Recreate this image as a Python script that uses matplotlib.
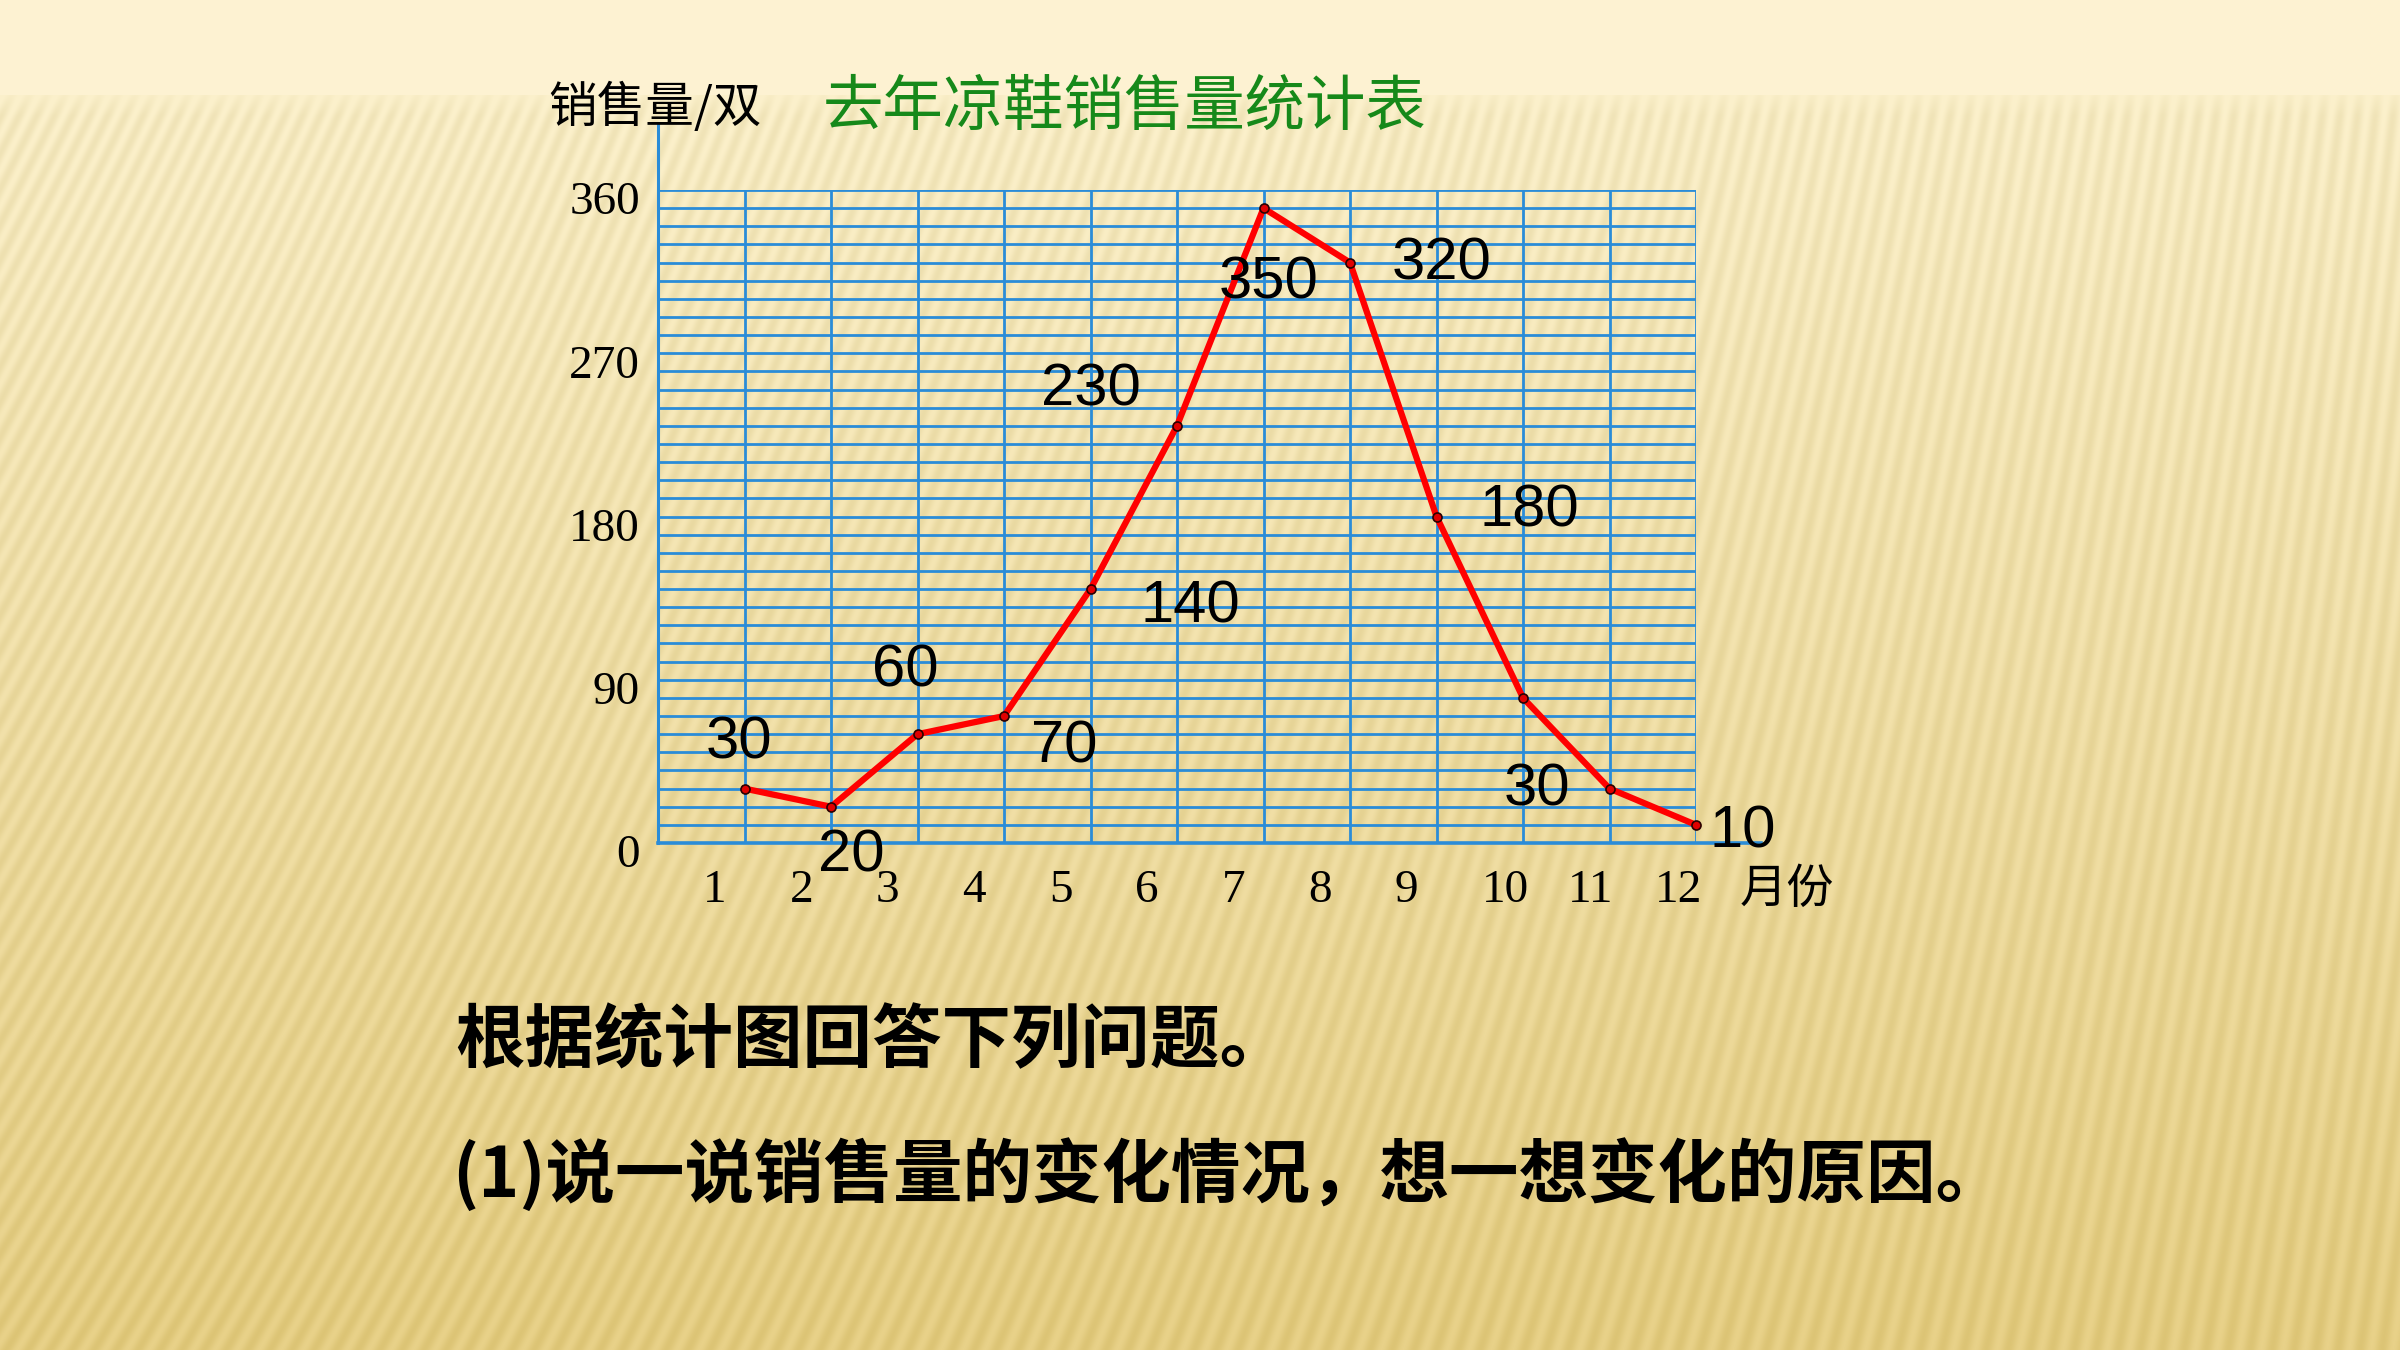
import matplotlib
import numpy as np

matplotlib.use("Agg")
import matplotlib.pyplot as plt
from matplotlib.transforms import offset_copy

plt.rcParams["font.family"] = ["Noto Sans CJK SC", "DejaVu Sans"]

months = [1, 2, 3, 4, 5, 6, 7, 8, 9, 10, 11, 12]
sales = [30, 20, 60, 70, 140, 230, 350, 320, 180, 80, 30, 10]
y_ticks = [0, 90, 180, 270, 360]
month_labels = ["1", "2", "3", "4", "5", "6", "7", "8", "9", "10", "11", "12"]
chart_title = "去年凉鞋销售量统计表"
y_title = "销售量/双"
x_title = "月份"
question = "根据统计图回答下列问题。"
question_1 = "(1)说一说销售量的变化情况，想一想变化的原因。"

# where each value label sits relative to its point (month, value), in data units
label_offsets = {
    1: (-0.06, 25),
    2: (0.24, -27),
    3: (-0.14, 35),
    4: (0.70, -17),
    5: (1.16, -10),
    6: (-0.99, 20),
    7: (0.06, -41),
    8: (1.06, -1),
    9: (1.07, 3),
    11: (-0.84, -1),
    12: (0.54, -4),
}

W, H = 2400, 1350
GRID = "#2A8CD8"

fig = plt.figure(figsize=(24, 13.5), dpi=100)

# slide background: warm beige gradient with slanted stripes
bg = fig.add_axes([0, 0, 1, 1], zorder=-5)
yy, xx = np.mgrid[0:H, 0:W].astype(float)
up = H - yy
slope = 0.62 - 0.47 * (xx / W)
phase = (xx - up * slope) / 22.0
stripe = 0.5 + 0.5 * np.sin(2 * np.pi * phase)
t = np.clip((yy - 100) / (H - 100), 0, 1)[..., None]
light = np.array([252, 241, 204]) / 255
dark = np.array([232, 209, 136]) / 255
img = light * (1 - t) + dark * t
band = np.clip((yy - 85) / 30, 0, 1)[..., None]
img = img - band * stripe[..., None] * np.array([0.045, 0.05, 0.075])
top = np.array([253, 242, 210]) / 255
img = np.where(yy[..., None] < 95, top, img)
bg.imshow(np.clip(img, 0, 1), aspect="auto", extent=[0, 1, 0, 1])
bg.axis("off")

left, right, top_px, bottom = 658, 1696, 190, 843
ax = fig.add_axes(
    [left / W, 1 - bottom / H, (right - left) / W, (bottom - top_px) / H]
)
ax.set_xlim(0, 12)
ax.set_ylim(0, 360)
ax.patch.set_alpha(0)
for side in ax.spines.values():
    side.set_visible(False)
ax.set_xticks([])
ax.set_yticks([])

for yv in range(10, 361, 10):
    ax.plot([0, 12], [yv, yv], color=GRID, lw=2.0, zorder=1)
for xv in months:
    ax.plot([xv, xv], [0, 360], color=GRID, lw=2.0, zorder=1)
ax.plot([0, 0], [0, 397], color=GRID, lw=2.2, clip_on=False, zorder=2)
ax.plot([0, 12.75], [0, 0], color=GRID, lw=2.6, clip_on=False, zorder=2)

ax.plot(
    months,
    sales,
    color="#FF0000",
    lw=4.5,
    marker="o",
    ms=6.5,
    mfc="#E00000",
    mec="#2A0000",
    mew=1.2,
    zorder=4,
    clip_on=False,
)

for m, v in zip(months, sales):
    if m not in label_offsets:
        continue
    dx, dy = label_offsets[m]
    ax.text(
        m + dx,
        v + dy,
        str(v),
        fontsize=43,
        family="Liberation Sans",
        ha="center",
        va="center",
        zorder=5,
    )

ytrans = offset_copy(ax.transData, fig=fig, x=-18, y=-13, units="dots")
for yv in y_ticks:
    ax.text(
        0, yv, str(yv), transform=ytrans, fontsize=34,
        family="Liberation Serif", ha="right", va="center",
    )

xtrans = offset_copy(ax.transData, fig=fig, x=0, y=-48, units="dots")
for m, lab in zip(months, month_labels):
    ax.text(
        m - 0.48, 0, lab, transform=xtrans, fontsize=34,
        family="Liberation Serif", ha="left", va="center",
    )

fig.text(1740 / W, 1 - 890 / H, x_title, fontsize=34, ha="left", va="center")
fig.text(548 / W, 1 - 108 / H, y_title, fontsize=35, ha="left", va="center")
fig.text(
    823 / W, 1 - 108 / H, chart_title, fontsize=43.5, color="#16891A",
    ha="left", va="center",
)

fig.text(455 / W, 1 - 1042 / H, question, fontsize=50, weight="black",
         ha="left", va="center")
fig.text(452 / W, 1 - 1175 / H, question_1, fontsize=50, weight="black",
         ha="left", va="center")

fig.savefig("out.png", dpi=100)
